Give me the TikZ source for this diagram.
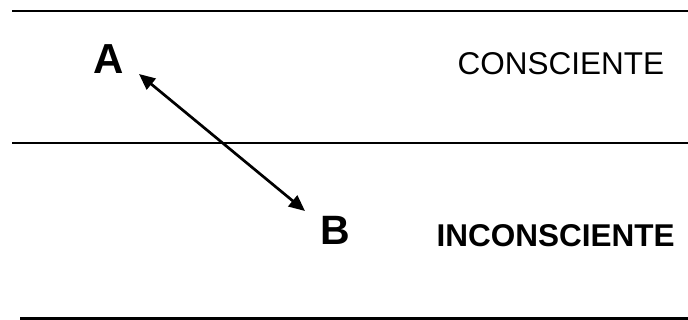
\documentclass[tikz,border=0pt]{standalone}
\usepackage{fontspec}
\setmainfont{Liberation Sans}
\usetikzlibrary{arrows.meta}
\tikzset{
  band/.style={line width=2.7pt, black},
  letter/.style={inner sep=0pt, anchor=base, font=\fontsize{42}{42}\selectfont\bfseries},
  zone/.style={inner sep=0pt, anchor=base west},
  link/.style={line width=2.7pt, {Triangle[length=16pt,width=14pt,fill=black]}-{Triangle[length=16pt,width=14pt,fill=black]}}
}
\begin{document}
\begin{tikzpicture}[x=1pt,y=1pt]
\useasboundingbox (0,0) rectangle (688,320);
\fill[white] (0,0) rectangle (688,320);
\draw[band] (12,309) -- (688,309);
\draw[band] (12,177) -- (688,177);
\draw[band] (20,1.4) -- (688,1.4);
\node[letter] (A) at (109,246) {A};
\node[letter, font=\fontsize{41}{41}\selectfont\bfseries] (B) at (335.5,75) {B};
\node[zone, font=\fontsize{31.5}{32}\selectfont] (C) at (457.5,245) {CONSCIENTE};
\node[zone, font=\fontsize{31.5}{32}\selectfont\bfseries] (I) at (436.5,73) {INCONSCIENTE};
\coordinate (pa) at (139,246);
\coordinate (pb) at (305,109);
\draw[link] (pa) -- (pb);
\end{tikzpicture}
\end{document}
